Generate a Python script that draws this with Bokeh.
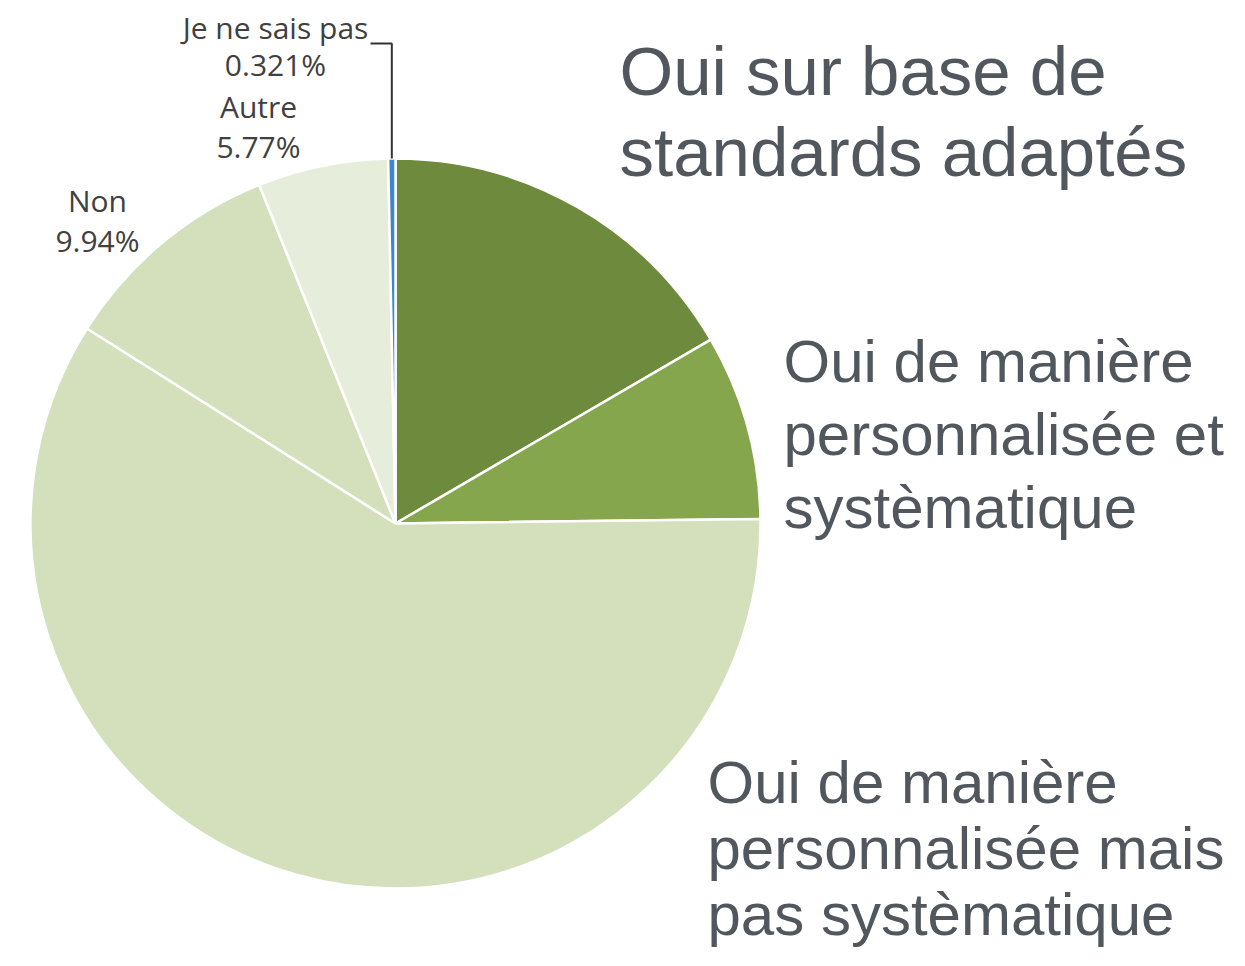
import math
from bokeh.plotting import figure
from bokeh.models import Range1d, ColumnDataSource
from bokeh.core.properties import value
from bokeh.embed import file_html
from bokeh.resources import INLINE

# ---- data ----
categories = [
    "Oui sur base de standards adaptés",
    "Oui de manière personnalisée et systématique",
    "Oui de manière personnalisée mais pas systématique",
    "Non",
    "Autre",
    "Je ne sais pas",
]
shares = [16.6, 8.2, 59.17, 9.94, 5.77, 0.321]
colors = ["#6e8b3d", "#86a64e", "#d3e0bb", "#d3e0bb", "#e6eedb", "#3b87c9"]

big_label_lines = [
    ["Oui sur base de", "standards adaptés"],
    ["Oui de manière", "personnalisée et", "systèmatique"],
    ["Oui de manière", "personnalisée mais", "pas systèmatique"],
]
small_labels = [
    ("Non", "9.94%"),
    ("Autre", "5.77%"),
    ("Je ne sais pas", "0.321%"),
]

# ---- layout (picture px) ----
W, H = 1229, 950
def sy(y):
    return H - y

cx, cy, R = 395, sy(523), 365

p = figure(width=W, height=H, x_range=Range1d(0, W), y_range=Range1d(0, H),
           output_backend="svg", toolbar_location=None, min_border=0,
           outline_line_color=None, background_fill_color="white",
           border_fill_color="white")
p.axis.visible = False
p.grid.visible = False

total = sum(shares)
starts, ends, cum = [], [], 0.0
for s in shares:
    starts.append(math.pi / 2 - 2 * math.pi * cum / total)
    cum += s
    ends.append(math.pi / 2 - 2 * math.pi * cum / total)

src = ColumnDataSource(dict(start=starts, end=ends, color=colors, cat=categories))
p.wedge(x=cx, y=cy, radius=R, start_angle="start", end_angle="end",
        direction="clock", fill_color="color", line_color="white",
        line_width=2.5, source=src)

# leader line for the tiny slice
mid = (starts[-1] + ends[-1]) / 2
ex = cx + R * math.cos(mid)
ey = cy + R * math.sin(mid)
elbow_y = sy(43)
p.line(x=[370, ex, ex], y=[elbow_y, elbow_y, ey], line_color="#333333", line_width=2)

# big labels: (x, first baseline, line step, font px)
big_pos = [(619, 97, 81, 69), (783, 383, 73, 60), (707, 804, 66, 60)]
for lines, (x0, y0, dy, fs) in zip(big_label_lines, big_pos):
    shift = 0.37 * fs
    xs = [x0] * len(lines)
    ys = [sy(y0 + i * dy - shift) for i in range(len(lines))]
    p.text(x=xs, y=ys, text=lines, text_font=value("Liberation Sans"),
           text_font_size=value(f"{fs}px"), text_color="#52575d",
           text_baseline="alphabetic", text_align="left")

# small labels
small_pos = [(97, 200, 240), (258, 106, 146), (275, 27, 64)]
for (name, pct), (x0, y1, y2) in zip(small_labels, small_pos):
    p.text(x=[x0, x0], y=[sy(y1), sy(y2)], text=[name, pct],
           text_font=value("Open Sans"), text_font_size=value("30px"),
           text_color="#404040", text_baseline="middle", text_align="center")

open("out.html", "w").write(file_html(p, INLINE))
